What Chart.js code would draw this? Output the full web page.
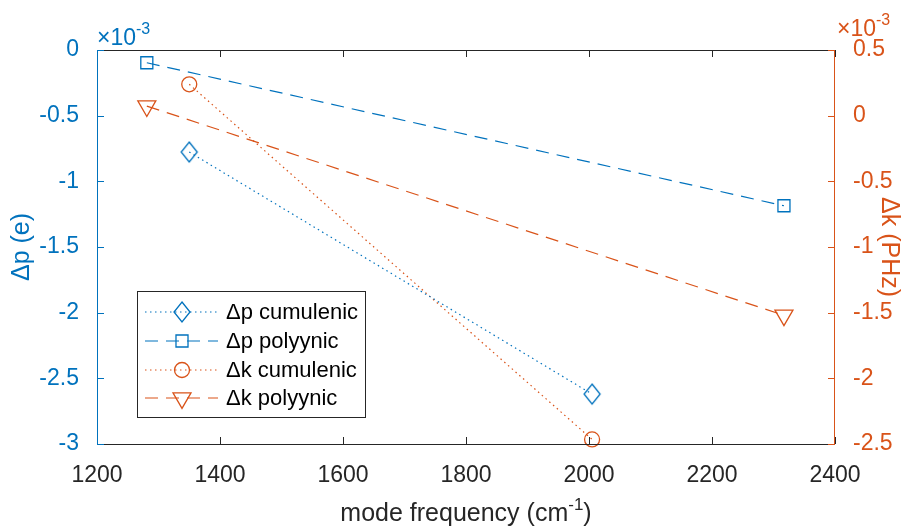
<!DOCTYPE html>
<html>
<head>
<meta charset="utf-8">
<script src="https://cdn.jsdelivr.net/npm/chart.js@4.4.1/dist/chart.umd.min.js"></script>
<style>
  html, body { margin: 0; padding: 0; background: #fff; }
  canvas { display: block; }
</style>
</head>
<body>
<canvas id="chart" width="905" height="528"></canvas>
<script>
// Values in units of 1e-3 (the axes carry the x10^-3 multiplier)
const pCumulenicX = [1350, 2005];
const pCumulenic = [-0.777, -2.62];
const pPolyynicX = [1281, 2317];
const pPolyynic = [-0.097, -1.186];
const kCumulenicX = [1350, 2005];
const kCumulenic = [0.239, -2.465];
const kPolyynicX = [1281, 2317];
const kPolyynic = [0.073, -1.52];

const xTicks = [1200, 1400, 1600, 1800, 2000, 2200, 2400];
const leftTicks = [0, -0.5, -1, -1.5, -2, -2.5, -3];
const rightTicks = [0.5, 0, -0.5, -1, -1.5, -2, -2.5];

const BLUE = '#0072BD';
const ORANGE = '#D95319';
const DARK = '#262626';
const FONT = '"Liberation Sans", Arial, Helvetica, sans-serif';

const DOTTED = [1.5, 3.5];
const DASHED = [13, 8];

// Tall diamond marker like MATLAB's 'd'
function diamondMarker(color, w, h, lw) {
    const c = document.createElement('canvas');
    c.width = w + 4;
    c.height = h + 4;
    const g = c.getContext('2d');
    g.strokeStyle = color;
    g.lineWidth = lw;
    const cx = c.width / 2, cy = c.height / 2;
    g.beginPath();
    g.moveTo(cx, cy - h / 2);
    g.lineTo(cx + w / 2, cy);
    g.lineTo(cx, cy + h / 2);
    g.lineTo(cx - w / 2, cy);
    g.closePath();
    g.stroke();
    return c;
}
const diamond = diamondMarker(BLUE, 16, 20, 1.3);

function pairs(xs, ys) {
    return xs.map((x, i) => ({ x: x, y: ys[i] }));
}

function series(label, xs, ys, color, dash, axis, style, radius, rotation) {
    return {
        label: label,
        data: pairs(xs, ys),
        yAxisID: axis,
        borderColor: color,
        borderWidth: 1.2,
        borderDash: dash,
        pointStyle: style,
        pointRadius: radius,
        pointRotation: rotation || 0,
        pointBorderColor: color,
        pointBackgroundColor: 'rgba(0,0,0,0)',
        pointBorderWidth: 1.3,
        clip: false,
        tension: 0,
        fill: false
    };
}

const datasets = [
    series('\u0394p cumulenic', pCumulenicX, pCumulenic, BLUE, DOTTED, 'y', diamond, 9),
    series('\u0394p polyynic', pPolyynicX, pPolyynic, BLUE, DASHED, 'y', 'rect', 8.5),
    series('\u0394k cumulenic', kCumulenicX, kCumulenic, ORANGE, DOTTED, 'y2', 'circle', 7.5),
    series('\u0394k polyynic', kPolyynicX, kPolyynic, ORANGE, DASHED, 'y2', 'triangle', 10.4, 180)
];

const fmt = v => String(Math.round(v * 10) / 10);

function superText(ctx, parts, x, y, align) {
    // parts: [text, size, dy]
    let total = 0;
    parts.forEach(p => { ctx.font = p[1] + 'px ' + FONT; total += ctx.measureText(p[0]).width; });
    let cx = align === 'center' ? x - total / 2 : x;
    ctx.textAlign = 'left';
    parts.forEach(p => {
        ctx.font = p[1] + 'px ' + FONT;
        ctx.fillText(p[0], cx, y + p[2]);
        cx += ctx.measureText(p[0]).width;
    });
}

// MATLAB-like box: inward ticks, coloured y-axes, multipliers, titles, legend
const matlabDecor = {
    id: 'matlabDecor',
    afterDraw(chart) {
        const { ctx, chartArea: a, scales } = chart;
        const T = 7;
        ctx.save();
        ctx.lineWidth = 1;
        ctx.setLineDash([]);

        // top and bottom of the box, x ticks
        ctx.strokeStyle = DARK;
        ctx.beginPath();
        ctx.moveTo(a.left, a.top + 0.5); ctx.lineTo(a.right, a.top + 0.5);
        ctx.moveTo(a.left, a.bottom + 0.5); ctx.lineTo(a.right, a.bottom + 0.5);
        xTicks.forEach(t => {
            const px = Math.round(scales.x.getPixelForValue(t)) + 0.5;
            ctx.moveTo(px, a.bottom); ctx.lineTo(px, a.bottom - T);
            ctx.moveTo(px, a.top); ctx.lineTo(px, a.top + T);
        });
        ctx.stroke();

        // left axis
        ctx.strokeStyle = BLUE;
        ctx.beginPath();
        ctx.moveTo(a.left + 0.5, a.top); ctx.lineTo(a.left + 0.5, a.bottom + 1);
        leftTicks.forEach(t => {
            const py = Math.round(scales.y.getPixelForValue(t)) + 0.5;
            ctx.moveTo(a.left, py); ctx.lineTo(a.left + T, py);
        });
        ctx.stroke();

        // right axis
        ctx.strokeStyle = ORANGE;
        ctx.beginPath();
        ctx.moveTo(a.right - 0.5, a.top); ctx.lineTo(a.right - 0.5, a.bottom + 1);
        rightTicks.forEach(t => {
            const py = Math.round(scales.y2.getPixelForValue(t)) + 0.5;
            ctx.moveTo(a.right, py); ctx.lineTo(a.right - T, py);
        });
        ctx.stroke();

        // exponent multipliers
        ctx.textBaseline = 'alphabetic';
        ctx.fillStyle = BLUE;
        superText(ctx, [['\u00d710', 23, 0], ['-3', 16, -11]], a.left, 45, 'left');
        ctx.fillStyle = ORANGE;
        superText(ctx, [['\u00d710', 23, 0], ['-3', 16, -11]], a.right + 2, 36, 'left');

        // axis titles
        ctx.textAlign = 'center';
        ctx.textBaseline = 'middle';
        ctx.font = '25px ' + FONT;
        ctx.fillStyle = BLUE;
        ctx.save();
        ctx.translate(22, (a.top + a.bottom) / 2);
        ctx.rotate(-Math.PI / 2);
        ctx.fillText('\u0394p (e)', 0, 0);
        ctx.restore();

        ctx.fillStyle = ORANGE;
        ctx.save();
        ctx.translate(889, (a.top + a.bottom) / 2);
        ctx.rotate(Math.PI / 2);
        ctx.fillText('\u0394k (PHz)', 0, 0);
        ctx.restore();

        ctx.fillStyle = DARK;
        ctx.textBaseline = 'middle';
        superText(ctx, [['mode frequency (cm', 25, 0], ['-1', 17, -9], [')', 25, 0]],
            (a.left + a.right) / 2, 514, 'center');

        // legend
        const box = { x: 137, y: 291, w: 228, h: 126 };
        ctx.fillStyle = '#fff';
        ctx.fillRect(box.x, box.y, box.w, box.h);
        ctx.strokeStyle = DARK;
        ctx.lineWidth = 1;
        ctx.strokeRect(box.x + 0.5, box.y + 0.5, box.w, box.h);
        const rowY = [312, 341, 370, 398];
        datasets.forEach((ds, i) => {
            const y = rowY[i];
            ctx.strokeStyle = ds.borderColor;
            ctx.lineWidth = ds.borderWidth;
            ctx.setLineDash(ds.borderDash);
            ctx.beginPath();
            ctx.moveTo(145, y); ctx.lineTo(218, y);
            ctx.stroke();
            ctx.setLineDash([]);
            ctx.fillStyle = 'rgba(0,0,0,0)';
            ctx.lineWidth = ds.pointBorderWidth;
            Chart.helpers.drawPoint(ctx, {
                pointStyle: ds.pointStyle,
                radius: ds.pointRadius,
                rotation: ds.pointRotation,
                borderWidth: ds.pointBorderWidth
            }, 182, y);
            ctx.fillStyle = '#000';
            ctx.font = '22px ' + FONT;
            ctx.textAlign = 'left';
            ctx.textBaseline = 'middle';
            ctx.fillText(ds.label, 226, y + 1);
        });
        ctx.restore();
    }
};

new Chart(document.getElementById('chart'), {
    type: 'line',
    data: { datasets: datasets },
    options: {
        responsive: false,
        devicePixelRatio: 1,
        animation: false,
        layout: { padding: { top: 50, left: 0, right: 0, bottom: 0 } },
        plugins: {
            legend: { display: false },
            tooltip: { enabled: false }
        },
        scales: {
            x: {
                type: 'linear',
                min: 1200,
                max: 2400,
                afterBuildTicks: s => { s.ticks = xTicks.map(v => ({ value: v })); },
                afterFit: s => { s.height = 84; },
                grid: { display: false },
                border: { display: false },
                ticks: {
                    color: DARK,
                    font: { family: FONT, size: 23 },
                    padding: 10,
                    maxRotation: 0,
                    autoSkip: false,
                    callback: v => String(v)
                }
            },
            y: {
                position: 'left',
                min: -3,
                max: 0,
                afterBuildTicks: s => { s.ticks = leftTicks.map(v => ({ value: v })); },
                afterFit: s => { s.width = 97; },
                grid: { display: false },
                border: { display: false },
                ticks: {
                    color: BLUE,
                    font: { family: FONT, size: 23 },
                    padding: 10,
                    callback: fmt
                }
            },
            y2: {
                position: 'right',
                min: -2.5,
                max: 0.5,
                afterBuildTicks: s => { s.ticks = rightTicks.map(v => ({ value: v })); },
                afterFit: s => { s.width = 70; },
                grid: { display: false },
                border: { display: false },
                ticks: {
                    color: ORANGE,
                    font: { family: FONT, size: 23 },
                    padding: 10,
                    callback: fmt
                }
            }
        }
    },
    plugins: [matlabDecor]
});
</script>
</body>
</html>
